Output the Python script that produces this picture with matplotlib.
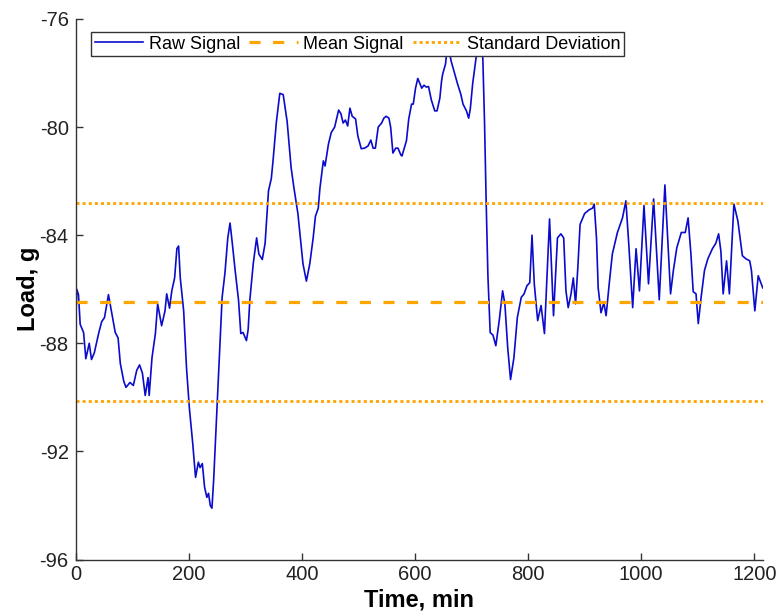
import matplotlib
matplotlib.use('Agg')
import matplotlib.pyplot as plt
import numpy as np

plt.rcParams['font.family'] = ['Liberation Sans', 'DejaVu Sans']
plt.rcParams['axes.unicode_minus'] = False
plt.rcParams['lines.scale_dashes'] = False

# load cell reading over the run (min, g)
time_min = [
    0, 2, 5, 8, 14, 18, 24, 28, 33, 41, 46, 51, 58, 64, 70, 75, 79, 85, 89, 96,
    102, 108, 113, 118, 123, 128, 130, 135, 141, 145, 152, 158, 161, 166, 170, 175, 179, 182, 185, 191,
    196, 201, 207, 212, 217, 220, 224, 228, 232, 235, 238, 241, 244, 247, 251, 255, 259, 264, 269, 273,
    277, 282, 288, 292, 296, 302, 305, 308, 314, 320, 324, 330, 335, 341, 346, 349, 355, 361, 367, 374,
    381, 386, 393, 402, 408, 414, 420, 424, 429, 432, 438, 441, 447, 452, 458, 465, 469, 473, 477, 481,
    485, 489, 495, 499, 505, 511, 517, 522, 526, 530, 535, 541, 545, 549, 554, 557, 561, 566, 570, 575,
    577, 581, 585, 589, 594, 597, 601, 605, 607, 612, 616, 620, 624, 629, 635, 639, 644, 647, 649, 654,
    658, 664, 669, 675, 681, 685, 691, 695, 698, 702, 708, 714, 720, 723, 726, 729, 733, 738, 743, 749,
    755, 759, 764, 769, 775, 781, 788, 793, 798, 803, 807, 811, 817, 823, 829, 838, 845, 852, 858, 863,
    867, 871, 876, 880, 884, 888, 892, 900, 908, 914, 917, 921, 924, 929, 934, 938, 944, 949, 958, 967,
    973, 978, 985, 991, 997, 1005, 1013, 1022, 1032, 1042, 1046, 1052, 1057, 1063, 1071, 1078, 1083, 1088, 1092, 1097,
    1101, 1106, 1112, 1118, 1126, 1132, 1137, 1141, 1145, 1151, 1156, 1164, 1171, 1179, 1185, 1192, 1195, 1201, 1207, 1215,
]
load_g = [
    -87.3, -86.0, -86.2, -87.3, -87.6, -88.57, -88.0, -88.6, -88.35, -87.6, -87.2, -87.05, -86.2, -86.9, -87.6, -87.8, -88.75, -89.4, -89.63, -89.45,
    -89.56, -89.0, -88.8, -89.1, -89.93, -89.27, -89.93, -88.53, -87.64, -86.54, -87.35, -86.8, -86.17, -86.7, -86.06, -85.58, -84.5, -84.4, -85.58, -86.8,
    -88.9, -90.38, -91.7, -92.96, -92.4, -92.6, -92.45, -93.33, -93.7, -93.55, -94.0, -94.1, -93.07, -91.7, -89.86, -88.0, -86.3, -85.4, -84.1, -83.55,
    -84.3, -85.3, -86.4, -87.64, -87.6, -87.9, -87.5, -86.4, -85.06, -84.1, -84.7, -84.9, -84.3, -82.36, -81.9, -81.25, -79.8, -78.75, -78.8, -79.8,
    -81.5, -82.25, -83.2, -85.06, -85.7, -85.06, -84.1, -83.3, -83.0, -82.25, -81.25, -81.44, -80.63, -80.2, -80.0, -79.37, -79.5, -79.85, -79.74, -79.96,
    -79.3, -79.6, -79.7, -80.33, -80.8, -80.78, -80.7, -80.48, -80.78, -80.78, -80.0, -79.85, -79.67, -79.6, -79.67, -80.0, -80.96, -80.78, -80.78, -81.03,
    -81.07, -80.78, -80.5, -79.7, -79.15, -79.15, -78.56, -78.2, -78.3, -78.56, -78.45, -78.52, -78.5, -79.0, -79.4, -79.4, -78.93, -78.3, -78.04, -77.67,
    -76.9, -77.56, -77.93, -78.38, -78.78, -79.15, -79.4, -79.67, -79.3, -78.4, -77.45, -76.9, -77.45, -79.8, -82.84, -85.5, -87.6, -87.7, -88.09, -87.16,
    -86.06, -86.54, -88.16, -89.34, -88.53, -87.05, -86.3, -86.17, -85.87, -85.76, -84.0, -85.8, -87.16, -86.6, -87.64, -83.4, -86.98, -84.1, -83.95, -84.1,
    -86.06, -86.68, -86.17, -85.58, -86.54, -85.2, -83.6, -83.2, -83.06, -83.0, -82.85, -84.1, -85.95, -86.87, -86.5, -86.98, -85.7, -84.7, -83.9, -83.36,
    -82.73, -84.3, -86.68, -84.5, -86.06, -82.9, -85.8, -82.66, -86.39, -82.14, -83.73, -86.17, -85.3, -84.47, -83.9, -83.9, -83.36, -84.7, -86.09, -86.17,
    -87.27, -86.3, -85.3, -84.87, -84.5, -84.3, -83.95, -84.6, -86.17, -84.95, -86.17, -82.85, -83.47, -84.76, -84.87, -84.95, -85.3, -86.8, -85.5, -85.95,
]

mean_load = -86.46
std_load = 3.66

t_end = 1216
blue = '#0b0bcc'
orange = '#ffa500'

fig = plt.figure(figsize=(7.8, 6.16), dpi=100)
ax = fig.add_axes([0.097, 0.0917, 0.8816, 0.8775])

ax.plot(time_min, load_g, color=blue, lw=1.2, label='Raw Signal')
ax.plot([0, t_end], [mean_load, mean_load], color=orange, lw=2.3,
        dashes=(8, 9), label='Mean Signal')
ax.plot([0, t_end], [mean_load + std_load] * 2, color=orange, lw=2.0,
        dashes=(2.2, 2.2), label='Standard Deviation')
ax.plot([0, t_end], [mean_load - std_load] * 2, color=orange, lw=2.0,
        dashes=(2.2, 2.2))

ax.set_xlim(0, t_end)
ax.set_ylim(-96, -76)
ax.set_xticks(np.arange(0, 1201, 200))
ax.set_yticks(np.arange(-96, -75, 4))

for side in ['top', 'right']:
    ax.spines[side].set_visible(False)
for side in ['left', 'bottom']:
    ax.spines[side].set_color('#333333')
    ax.spines[side].set_linewidth(1.0)

ax.tick_params(axis='both', direction='in', length=5, width=1.0,
               color='#333333', labelsize=14.5, labelcolor='#222222')
ax.tick_params(axis='x', pad=4)
ax.tick_params(axis='y', pad=5)

ax.set_xlabel('Time, min', fontsize=17, fontweight='bold', labelpad=3)
ax.set_ylabel('Load, g', fontsize=17, fontweight='bold', labelpad=0)

leg = ax.legend(loc='upper left', bbox_to_anchor=(0.0222, 0.976), ncol=3,
                fontsize=13, frameon=True, fancybox=False, borderaxespad=0,
                handlelength=2.7, handletextpad=0.3, columnspacing=0.5,
                borderpad=0.2)
leg.get_frame().set_edgecolor('#333333')
leg.get_frame().set_linewidth(1.0)
leg.get_frame().set_alpha(1)

fig.savefig('out.png', dpi=100)
